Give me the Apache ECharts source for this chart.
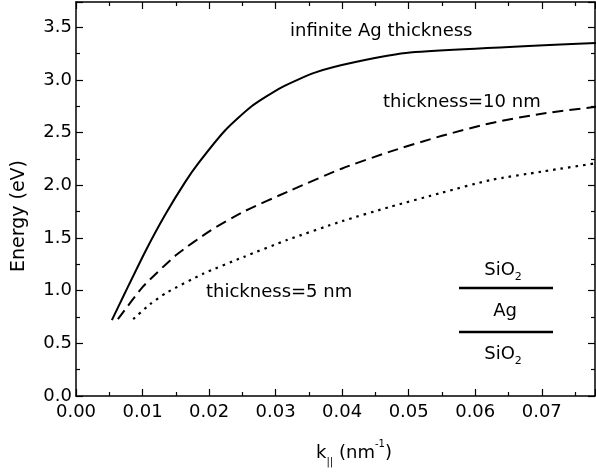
<!DOCTYPE html>
<html><head><meta charset="utf-8">
<script src="https://cdn.jsdelivr.net/npm/echarts@6/dist/echarts.min.js"></script>
<style>html,body{margin:0;padding:0;background:#fff}#c{width:596px;height:473px}</style>
</head><body><div id="c"></div>
<script>
// k_|| (nm^-1) and energy (eV) for each curve
const infK = [0.00539, 0.00737, 0.0104, 0.0134, 0.0164, 0.0184, 0.0224, 0.0264, 0.0309, 0.0359, 0.0420, 0.0502, 0.0782];
const infE = [0.72, 0.98, 1.37, 1.72, 2.03, 2.21, 2.52, 2.75, 2.93, 3.07, 3.17, 3.26, 3.35];
const t10K = [0.0063, 0.0101, 0.0151, 0.0202, 0.0252, 0.0322, 0.0400, 0.0472, 0.0550, 0.0623, 0.0700, 0.0782];
const t10E = [0.73, 1.04, 1.34, 1.57, 1.75, 1.95, 2.16, 2.32, 2.47, 2.59, 2.68, 2.745];
const t5K = [0.0086, 0.0111, 0.0136, 0.0191, 0.0252, 0.0317, 0.0400, 0.0472, 0.0550, 0.0623, 0.0700, 0.0782];
const t5E = [0.73, 0.87, 0.98, 1.16, 1.32, 1.48, 1.66, 1.795, 1.93, 2.05, 2.13, 2.21];
const xTicks = [0, 0.01, 0.02, 0.03, 0.04, 0.05, 0.06, 0.07];
const yTicks = [0, 0.5, 1.0, 1.5, 2.0, 2.5, 3.0, 3.5];

const FONT = 'DejaVu Sans';
const pairs = (a, b) => a.map((v, i) => [v, b[i]]);
const chart = echarts.init(document.getElementById('c'), null, {renderer: 'canvas'});

const axisCommon = {
  axisLine: {show: true, onZero: false, lineStyle: {color: '#000', width: 1.5}},
  axisTick: {show: true, inside: true, length: 7, lineStyle: {color: '#000', width: 1.2}},
  minorTick: {show: true, splitNumber: 2, length: 4, lineStyle: {color: '#000', width: 1.2}},
  splitLine: {show: false}
};
const xFmt = v => xTicks.some(t => Math.abs(t - v) < 1e-9) ? v.toFixed(2) : '';
const yFmt = v => yTicks.some(t => Math.abs(t - v) < 1e-9) ? v.toFixed(1) : '';

const option = {
  animation: false,
  backgroundColor: '#fff',
  grid: {left: 76, right: 1, top: 2, bottom: 77, containLabel: false},
  xAxis: [
    Object.assign({type: 'value', position: 'bottom', min: 0, max: 0.078, interval: 0.01,
      axisLabel: {show: true, formatter: xFmt, color: '#000', fontFamily: FONT, fontSize: 18, margin: 7, showMaxLabel: false}}, axisCommon),
    Object.assign({type: 'value', position: 'top', min: 0, max: 0.078, interval: 0.01,
      axisLabel: {show: false}}, axisCommon)
  ],
  yAxis: [
    Object.assign({type: 'value', position: 'left', min: 0, max: 3.74, interval: 0.5,
      axisLabel: {show: true, formatter: yFmt, color: '#000', fontFamily: FONT, fontSize: 18, margin: 4, showMaxLabel: false}}, axisCommon),
    Object.assign({type: 'value', position: 'right', min: 0, max: 3.74, interval: 0.5,
      axisLabel: {show: false}}, axisCommon)
  ],
  series: [
    {type: 'line', name: 'infinite', data: pairs(infK, infE), showSymbol: false, smooth: 0.2,
      lineStyle: {color: '#000', width: 2, type: 'solid'}},
    {type: 'line', name: '10 nm', data: pairs(t10K, t10E), showSymbol: false, smooth: 0.2,
      lineStyle: {color: '#000', width: 2, type: [11, 6]}},
    {type: 'line', name: '5 nm', data: pairs(t5K, t5E), showSymbol: false, smooth: 0.2,
      lineStyle: {color: '#000', width: 2.2, type: [2.5, 5]}}
  ],
  graphic: [
    {type: 'text', left: 290, top: 22, style: {text: 'infinite Ag thickness', font: '18px "DejaVu Sans"', fill: '#000'}},
    {type: 'text', left: 383, top: 93, style: {text: 'thickness=10 nm', font: '18px "DejaVu Sans"', fill: '#000'}},
    {type: 'text', left: 206, top: 283, style: {text: 'thickness=5 nm', font: '18px "DejaVu Sans"', fill: '#000'}},
    {type: 'text', x: 19, y: 216, rotation: Math.PI / 2,
      style: {text: 'Energy (eV)', font: '19px "DejaVu Sans"', fill: '#000', align: 'center', verticalAlign: 'middle'}},
    {type: 'text', x: 354, y: 453,
      style: {text: '{m|k}{s|||}{m| (nm}{p|-1}{m|)}', align: 'center', verticalAlign: 'middle', fill: '#000',
        rich: {m: {fontFamily: FONT, fontSize: 18, lineHeight: 28, verticalAlign: 'middle'},
               s: {fontFamily: FONT, fontSize: 10, lineHeight: 28, verticalAlign: 'bottom'},
               p: {fontFamily: FONT, fontSize: 10, lineHeight: 28, verticalAlign: 'top'}}}},
    {type: 'text', x: 503, y: 270,
      style: {text: '{m|SiO}{s|2}', align: 'center', verticalAlign: 'middle', fill: '#000',
        rich: {m: {fontFamily: FONT, fontSize: 18, lineHeight: 26, verticalAlign: 'middle'},
               s: {fontFamily: FONT, fontSize: 11, lineHeight: 26, verticalAlign: 'bottom'}}}},
    {type: 'line', shape: {x1: 459, y1: 288, x2: 553, y2: 288}, style: {stroke: '#000', lineWidth: 2.6}},
    {type: 'text', x: 505, y: 311, style: {text: 'Ag', font: '18px "DejaVu Sans"', fill: '#000', align: 'center', verticalAlign: 'middle'}},
    {type: 'line', shape: {x1: 459, y1: 332, x2: 553, y2: 332}, style: {stroke: '#000', lineWidth: 2.6}},
    {type: 'text', x: 503, y: 354,
      style: {text: '{m|SiO}{s|2}', align: 'center', verticalAlign: 'middle', fill: '#000',
        rich: {m: {fontFamily: FONT, fontSize: 18, lineHeight: 26, verticalAlign: 'middle'},
               s: {fontFamily: FONT, fontSize: 11, lineHeight: 26, verticalAlign: 'bottom'}}}}
  ]
};
chart.setOption(option);
</script></body></html>
